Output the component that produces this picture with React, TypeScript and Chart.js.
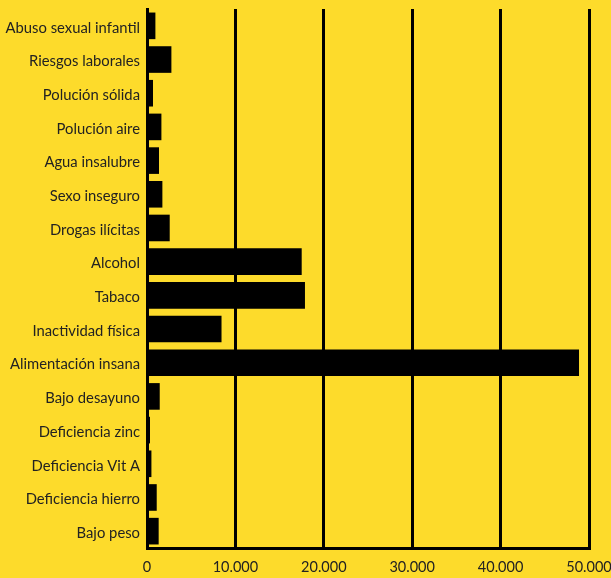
import React, { useEffect, useRef } from "react";
import { Chart, registerables } from "chart.js";

Chart.register(...registerables);

const categories = [
  "Abuso sexual infantil",
  "Riesgos laborales",
  "Polución sólida",
  "Polución aire",
  "Agua insalubre",
  "Sexo inseguro",
  "Drogas ilícitas",
  "Alcohol",
  "Tabaco",
  "Inactividad física",
  "Alimentación insana",
  "Bajo desayuno",
  "Deficiencia zinc",
  "Deficiencia Vit A",
  "Deficiencia hierro",
  "Bajo peso",
];

const values = [
  950, 2760, 680, 1630, 1360, 1740, 2570, 17500, 17870, 8430, 48870, 1440, 340,
  500, 1100, 1320,
];

const xTicks = [0, 10000, 20000, 30000, 40000, 50000];

const fmt = (v: number) => String(Math.round(v)).replace(/\B(?=(\d{3})+(?!\d))/g, ".");

export default function App() {
  const ref = useRef<HTMLCanvasElement>(null);
  useEffect(() => {
    document.body.style.margin = "0";
    document.body.style.background = "#FDDB2B";
    const chart = new Chart(ref.current!, {
      type: "bar",
      data: {
        labels: categories,
        datasets: [
          {
            data: values,
            backgroundColor: "#000000",
            borderWidth: 0,
            barPercentage: 0.79,
            categoryPercentage: 1,
          },
        ],
      },
      options: {
        indexAxis: "y",
        animation: false,
        responsive: false,
        maintainAspectRatio: false,
        layout: { padding: { top: 9, right: 0, left: 0, bottom: 0 } },
        plugins: { legend: { display: false }, tooltip: { enabled: false } },
        scales: {
          x: {
            min: 0,
            max: 50000,
            afterBuildTicks: (axis: any) => {
              axis.ticks = xTicks.map((v) => ({ value: v }));
            },
            afterFit: (axis: any) => {
              axis.paddingRight = 22;
              axis.paddingLeft = 0;
              axis.height = 30;
            },
            grid: { color: "#000", lineWidth: 3, drawTicks: false },
            border: { color: "#000", width: 3 },
            ticks: {
              color: "#222",
              font: { family: "Lato", size: 14.5 },
              padding: 11,
              maxRotation: 0,
              callback: (v: any) => fmt(Number(v)),
            },
          },
          y: {
            afterFit: (axis: any) => {
              axis.paddingTop = 0;
              axis.paddingBottom = 0;
              axis.width = 147;
            },
            grid: { display: false, drawTicks: false },
            border: { color: "#000", width: 3 },
            ticks: {
              color: "#222",
              font: { family: "Lato", size: 14.8, lineHeight: 0.27 },
              padding: 7,
              callback: (_v: any, i: number) => ["", categories[i]],
            },
          },
        },
      },
    });
    return () => chart.destroy();
  }, []);
  return (
    <div style={{ width: 611, height: 578, background: "#FDDB2B" }}>
      <canvas ref={ref} width={611} height={578} style={{ display: "block" }} />
    </div>
  );
}
